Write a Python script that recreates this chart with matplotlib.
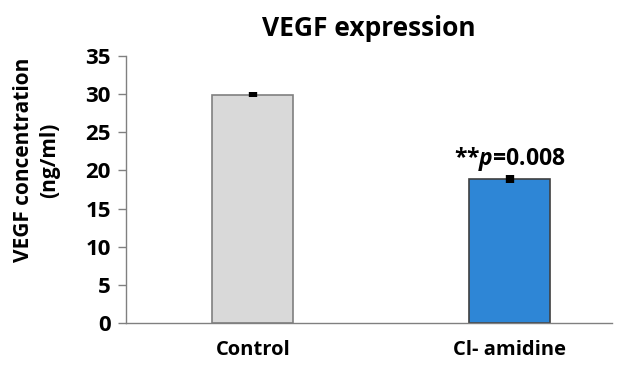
import matplotlib.pyplot as plt

# Data
groups = ['Control', 'Cl- amidine']
values = [29.9, 18.9]
errors = [0.3, 0.5]
colors = ['#d9d9d9', '#2e86d6']
edges = ['#808080', '#404040']

plt.rcParams['font.family'] = ['Open Sans', 'DejaVu Sans']
plt.rcParams['font.weight'] = 'bold'
plt.rcParams['mathtext.fontset'] = 'custom'
plt.rcParams['mathtext.bfit'] = 'Open Sans:bold:italic'

fig = plt.figure(figsize=(6.25, 3.65), dpi=100)
ax = fig.add_axes([0.2016, 0.115, 0.777, 0.732])

x = [0, 1]
ax.bar(x, values, width=0.315, color=colors, edgecolor=edges, linewidth=1.2, zorder=2)
ax.errorbar(x, values, yerr=errors, fmt='none', ecolor='black', elinewidth=6, capsize=0, zorder=3)

ax.set_xlim(-0.494, 1.396)
ax.set_ylim(0, 35)
ax.set_yticks(range(0, 36, 5))
ax.set_xticks(x)
ax.set_xticklabels(groups, fontsize=14.5, fontweight='bold')
ax.tick_params(axis='y', labelsize=16, length=6, color='#808080', width=1, pad=5)
ax.tick_params(axis='x', length=0, pad=12)
for lab in ax.get_yticklabels():
    lab.set_fontweight('bold')

for s in ['top', 'right']:
    ax.spines[s].set_visible(False)
for s in ['left', 'bottom']:
    ax.spines[s].set_color('#808080')
    ax.spines[s].set_linewidth(1)

ax.set_ylabel('VEGF concentration\n(ng/ml)', fontsize=15, fontweight='bold', linespacing=1.3)
ax.yaxis.set_label_coords(-0.136, 0.61)
ax.set_title('VEGF expression', fontsize=19, fontweight='bold', pad=14)

ax.text(1, values[1] + errors[1] + 0.25, r'**$\mathbfit{p}$=0.008', ha='center', va='bottom',
        fontsize=16.5, fontweight='bold')

fig.savefig('out.png', dpi=100)
